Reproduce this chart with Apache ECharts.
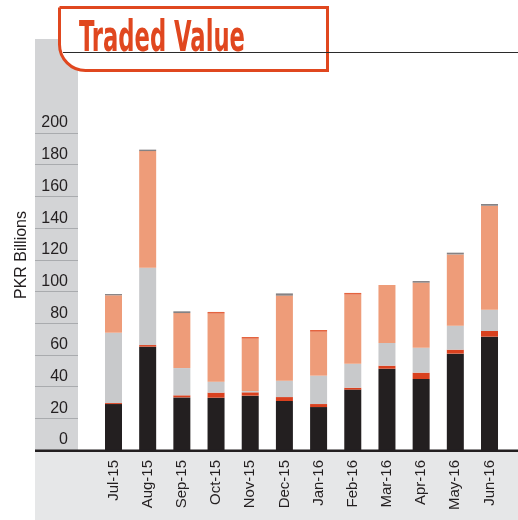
<!DOCTYPE html>
<html>
<head>
<meta charset="utf-8">
<script src="https://cdn.jsdelivr.net/npm/echarts@6/dist/echarts.min.js"></script>
<style>html,body{margin:0;padding:0;background:#fff}#c{width:518px;height:520px}</style>
</head>
<body>
<div id="c"></div>
<script>
// ---- data (PKR billions) ----
const months = ['Jul-15','Aug-15','Sep-15','Oct-15','Nov-15','Dec-15','Jan-16','Feb-16','Mar-16','Apr-16','May-16','Jun-16'];
const seriesBlack  = [29.0, 65.2, 33.2, 33.0, 34.3, 30.9, 27.1, 38.1, 51.3, 44.8, 60.8, 71.5];
const seriesRed    = [0.6, 1.0, 1.3, 3.2, 2.1, 2.5, 1.9, 1.2, 1.9, 4.0, 2.5, 3.6];
const seriesGray   = [44.4, 48.8, 17.2, 6.9, 0.8, 10.3, 17.9, 15.1, 14.3, 15.7, 15.1, 13.4];
const seriesSalmon = [23.6, 73.6, 34.7, 42.9, 33.0, 53.7, 27.7, 43.6, 36.6, 41.1, 45.0, 65.6];
const seriesDark   = [0.8, 0.9, 1.1, 0, 0, 1.4, 0, 0, 0, 1.0, 1.1, 1.1];
const seriesOrange = [0, 0, 0, 1.1, 1.1, 0, 1.1, 1.1, 0, 0, 0, 0];
const yTicks = [0, 20, 40, 60, 80, 100, 120, 140, 160, 180, 200];
const titleText = 'Traded Value';
const yAxisName = 'PKR Billions';

const FONT = '"Liberation Sans", Arial, Helvetica, sans-serif';
const chart = echarts.init(document.getElementById('c'), null, {renderer: 'canvas'});

// title width fitting
const titleFont = 'bold 43px "Liberation Sans Narrow", "DejaVu Sans Condensed", "Liberation Sans", sans-serif';
const ctx = document.createElement('canvas').getContext('2d');
ctx.font = titleFont;
const tw = ctx.measureText(titleText).width;
const titleScale = 166 / tw;

const mk = (name, data, color) => ({
  name, type: 'bar', stack: 'tv', data, xAxisIndex: 0, yAxisIndex: 0,
  barWidth: 17, itemStyle: {color}, emphasis: {disabled: true}, silent: true
});

chart.setOption({
  animation: false,
  grid: [
    {left: 96.4, right: 11.4, top: 133, bottom: 70, containLabel: false},
    {left: 35, width: 43, top: 133, bottom: 70, containLabel: false}
  ],
  xAxis: [
    {type: 'category', gridIndex: 0, data: months,
     axisLine: {show: false}, axisTick: {show: false},
     axisLabel: {rotate: 90, margin: 10, fontSize: 15, color: '#231f20', fontFamily: FONT}},
    {type: 'category', gridIndex: 1, data: [''], show: false}
  ],
  yAxis: [
    {type: 'value', gridIndex: 0, min: 0, max: 200, interval: 20, show: false},
    {type: 'value', gridIndex: 1, min: yTicks[0], max: yTicks[yTicks.length-1], interval: 20, position: 'right',
     axisLine: {show: false}, axisTick: {show: false},
     splitLine: {show: true, lineStyle: {color: '#a9abae', width: 1}},
     axisLabel: {inside: true, margin: 10, fontSize: 16, color: '#231f20', fontFamily: FONT,
                 verticalAlign: 'bottom', padding: [0, 0, 2, 0]}}
  ],
  series: [
    mk('s1', seriesBlack, '#231f20'),
    mk('s2', seriesRed, '#d9411f'),
    mk('s3', seriesGray, '#c8c9cb'),
    mk('s4', seriesSalmon, '#ee9c79'),
    mk('s5', seriesDark, '#858284'),
    mk('s6', seriesOrange, '#e4643f')
  ],
  graphic: [
    {type: 'rect', z: -10, shape: {x: 35, y: 39, width: 43, height: 412}, style: {fill: '#d3d4d6'}, silent: true},
    {type: 'rect', z: -10, shape: {x: 35, y: 452, width: 483, height: 68}, style: {fill: '#e6e7e8'}, silent: true},
    {type: 'rect', z: 50, shape: {x: 35, y: 449.5, width: 483, height: 2.5}, style: {fill: '#231f20'}, silent: true},
    {type: 'rect', z: 50, shape: {x: 59.5, y: 7.5, width: 268, height: 63, r: [0, 0, 0, 26]},
     style: {fill: '#ffffff', stroke: '#e0471f', lineWidth: 3}, silent: true},
    {type: 'line', z: 51, shape: {x1: 63, y1: 52.5, x2: 518, y2: 52.5}, style: {stroke: '#2b2b2b', lineWidth: 1}, silent: true},
    {type: 'text', z: 52, x: 79, y: 40, scaleX: titleScale, scaleY: 1,
     style: {text: titleText, font: titleFont, fill: '#e0471f', verticalAlign: 'middle'}, silent: true},
    {type: 'text', z: 52, x: 22, y: 255, rotation: Math.PI / 2,
     style: {text: yAxisName, fontSize: 16, fontFamily: FONT, fill: '#231f20', align: 'center', verticalAlign: 'middle'}, silent: true}
  ]
});
</script>
</body>
</html>
